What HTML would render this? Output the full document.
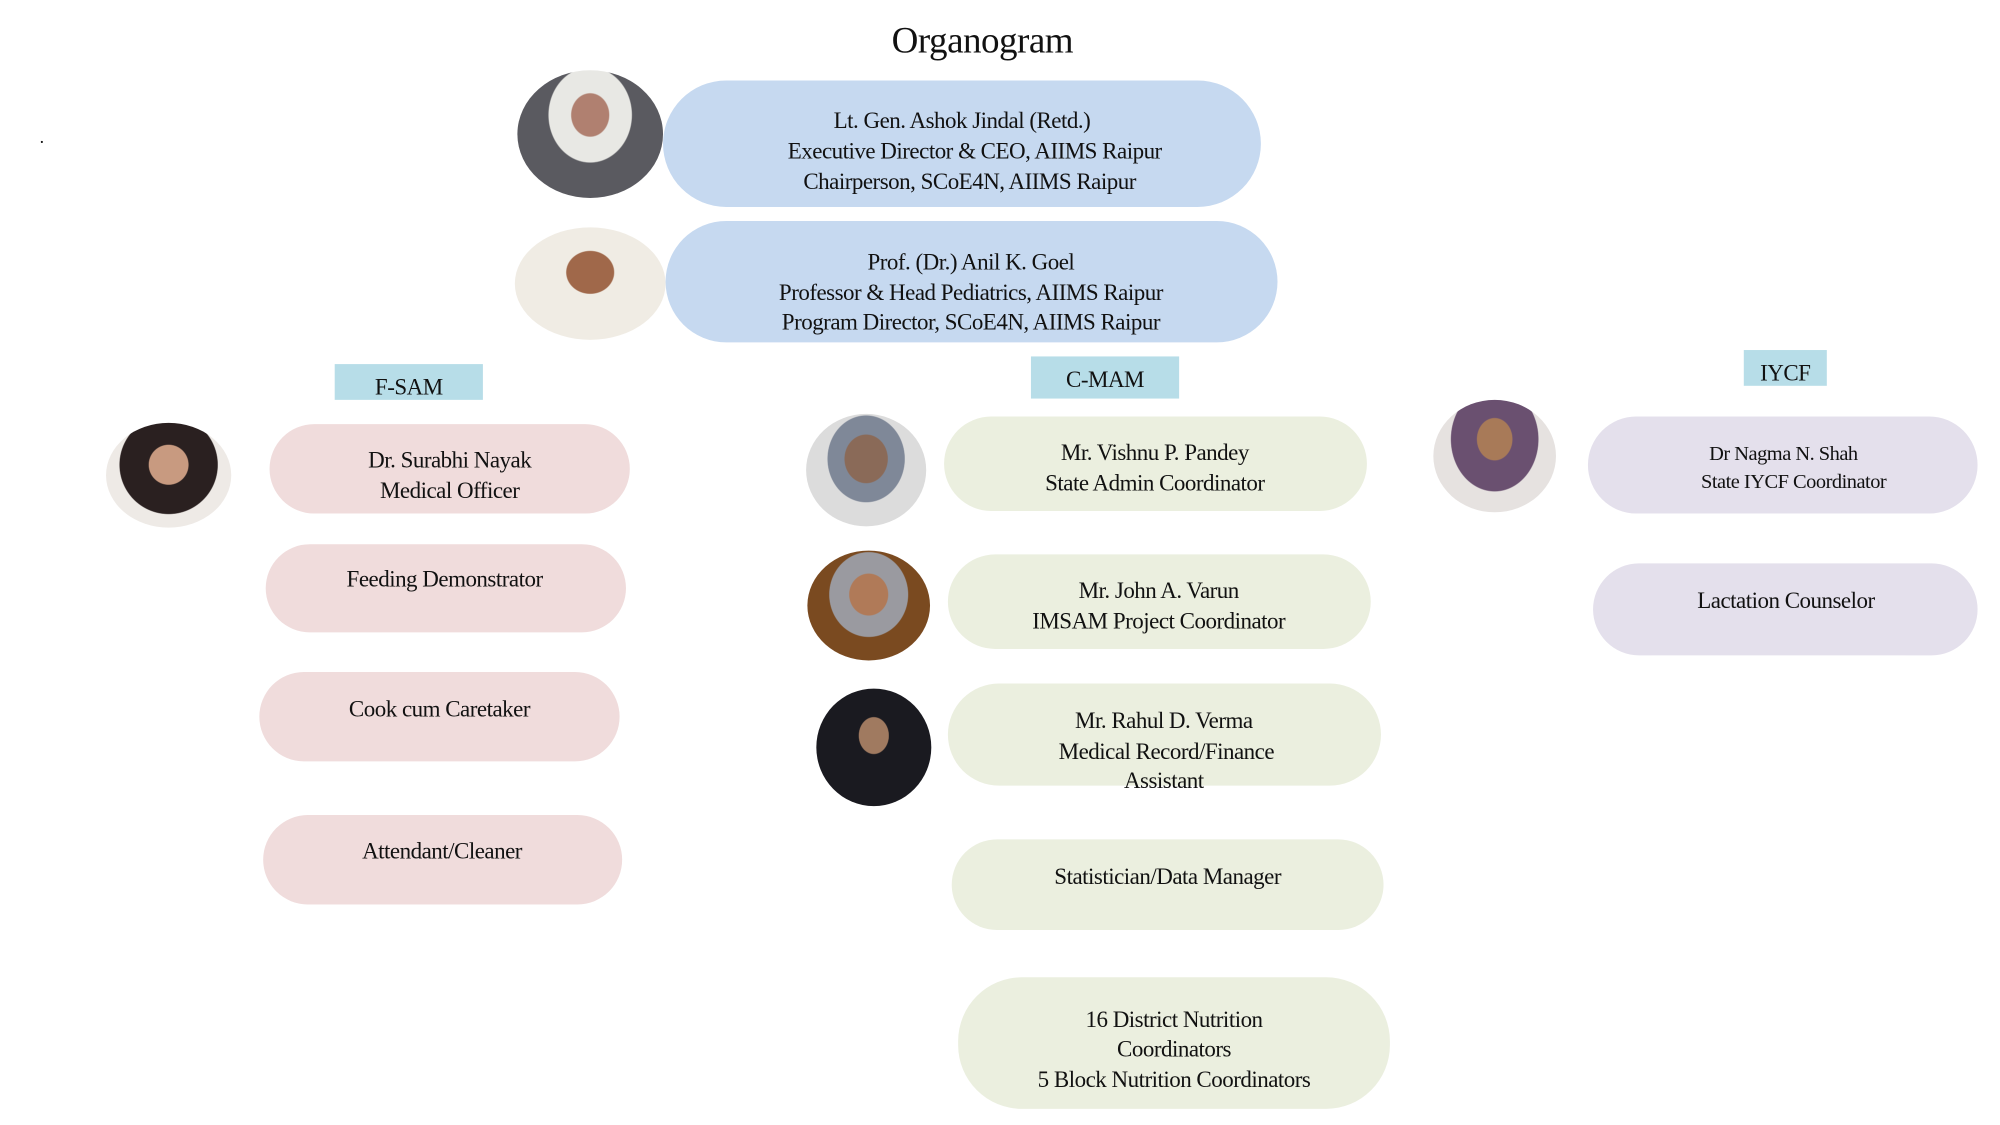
<!DOCTYPE html>
<html><head><meta charset="utf-8"><style>
html,body{margin:0;padding:0;background:#fff;overflow:hidden}
#w{position:absolute;left:0;top:0;width:1563px;height:880px;transform:scale(1.2775);transform-origin:0 0;font-family:"Liberation Serif",serif;color:#111}
.p{position:absolute;border-radius:40px}
.b{background:#c6d9f0}.r{background:#f0dcdc}.g{background:#ebefdf}.v{background:#e4e0ec}
.t{position:absolute;width:600px;text-align:center;font-size:18px;line-height:22px;letter-spacing:-0.4px;white-space:nowrap}
.l{position:absolute;background:#b7dde8;font-size:18px;text-align:center;letter-spacing:-0.4px}
.ph{position:absolute;border-radius:50%;overflow:hidden}
</style></head><body><div id="w">
<div class="t" style="left:469px;top:14px;font-size:29px;line-height:36px">Organogram</div>
<div style="position:absolute;left:31px;top:101px;font-size:14px">.</div>

<div class="ph" style="left:405px;top:55px;width:114px;height:100px;background:radial-gradient(ellipse at 50% 35%,#b08070 0 18%,#e8e8e4 19% 40%,#5a5a60 41%)"></div>
<div class="p b" style="left:519px;top:63px;width:468px;height:99px;border-radius:50px"></div>
<div class="t" style="left:453px;top:83px">Lt. Gen. Ashok Jindal (Retd.)</div>
<div class="t" style="left:463px;top:107px">Executive Director &amp; CEO, AIIMS Raipur</div>
<div class="t" style="left:459px;top:131px">Chairperson, SCoE4N, AIIMS Raipur</div>

<div class="ph" style="left:403px;top:178px;width:118px;height:88px;background:radial-gradient(ellipse at 50% 40%,#a0684a 0 22%,#f0ece4 23%)"></div>
<div class="p b" style="left:521px;top:173px;width:479px;height:95px;border-radius:48px"></div>
<div class="t" style="left:460px;top:194px">Prof. (Dr.) Anil K. Goel</div>
<div class="t" style="left:460px;top:218px">Professor &amp; Head Pediatrics, AIIMS Raipur</div>
<div class="t" style="left:460px;top:241px">Program Director, SCoE4N, AIIMS Raipur</div>

<div class="l" style="left:262px;top:285px;width:116px;height:28px;line-height:36px">F-SAM</div>
<div class="l" style="left:807px;top:279px;width:116px;height:33px;line-height:36px">C-MAM</div>
<div class="l" style="left:1365px;top:274px;width:65px;height:28px;line-height:36px">IYCF</div>

<div class="ph" style="left:83px;top:331px;width:98px;height:82px;background:radial-gradient(ellipse at 50% 40%,#c89a80 0 22%,#2a2020 23% 55%,#eeeae6 56%)"></div>
<div class="p r" style="left:211px;top:332px;width:282px;height:70px;border-radius:35px"></div>
<div class="t" style="left:52px;top:349px">Dr. Surabhi Nayak</div>
<div class="t" style="left:52px;top:373px">Medical Officer</div>
<div class="p r" style="left:208px;top:426px;width:282px;height:69px;border-radius:35px"></div>
<div class="t" style="left:48px;top:442px">Feeding Demonstrator</div>
<div class="p r" style="left:203px;top:526px;width:282px;height:70px;border-radius:35px"></div>
<div class="t" style="left:44px;top:544px">Cook cum Caretaker</div>
<div class="p r" style="left:206px;top:638px;width:281px;height:70px;border-radius:35px"></div>
<div class="t" style="left:46px;top:655px">Attendant/Cleaner</div>

<div class="ph" style="left:631px;top:324px;width:94px;height:88px;background:radial-gradient(ellipse at 50% 40%,#8a6a58 0 25%,#7f8898 26% 45%,#dcdcdc 46%)"></div>
<div class="ph" style="left:632px;top:431px;width:96px;height:86px;background:radial-gradient(ellipse at 50% 40%,#b07a58 0 22%,#9a9aa0 23% 45%,#7a4a20 46%)"></div>
<div class="ph" style="left:639px;top:539px;width:90px;height:92px;background:radial-gradient(ellipse at 50% 40%,#a07a60 0 18%,#1a1a20 19%)"></div>
<div class="p g" style="left:739px;top:326px;width:331px;height:74px;border-radius:37px"></div>
<div class="t" style="left:604px;top:343px">Mr. Vishnu P. Pandey</div>
<div class="t" style="left:604px;top:367px">State Admin Coordinator</div>
<div class="p g" style="left:742px;top:434px;width:331px;height:74px;border-radius:37px"></div>
<div class="t" style="left:607px;top:451px">Mr. John A. Varun</div>
<div class="t" style="left:607px;top:475px">IMSAM Project Coordinator</div>
<div class="p g" style="left:742px;top:535px;width:339px;height:80px;border-radius:40px"></div>
<div class="t" style="left:611px;top:553px">Mr. Rahul D. Verma</div>
<div class="t" style="left:613px;top:577px">Medical Record/Finance</div>
<div class="t" style="left:611px;top:600px">Assistant</div>
<div class="p g" style="left:745px;top:657px;width:338px;height:71px;border-radius:36px"></div>
<div class="t" style="left:614px;top:675px">Statistician/Data Manager</div>
<div class="p g" style="left:750px;top:765px;width:338px;height:103px;border-radius:50px"></div>
<div class="t" style="left:619px;top:787px">16 District Nutrition</div>
<div class="t" style="left:619px;top:810px">Coordinators</div>
<div class="t" style="left:619px;top:834px">5 Block Nutrition Coordinators</div>

<div class="ph" style="left:1122px;top:313px;width:96px;height:88px;background:radial-gradient(ellipse at 50% 35%,#a87a58 0 20%,#6a5070 21% 50%,#e6e2e0 51%)"></div>
<div class="p v" style="left:1243px;top:326px;width:305px;height:76px;border-radius:38px"></div>
<div class="t" style="left:1096px;top:345px;font-size:16px">Dr Nagma N. Shah</div>
<div class="t" style="left:1104px;top:367px;font-size:16px">State IYCF Coordinator</div>
<div class="p v" style="left:1247px;top:441px;width:301px;height:72px;border-radius:36px"></div>
<div class="t" style="left:1098px;top:459px">Lactation Counselor</div>
</div></body></html>
